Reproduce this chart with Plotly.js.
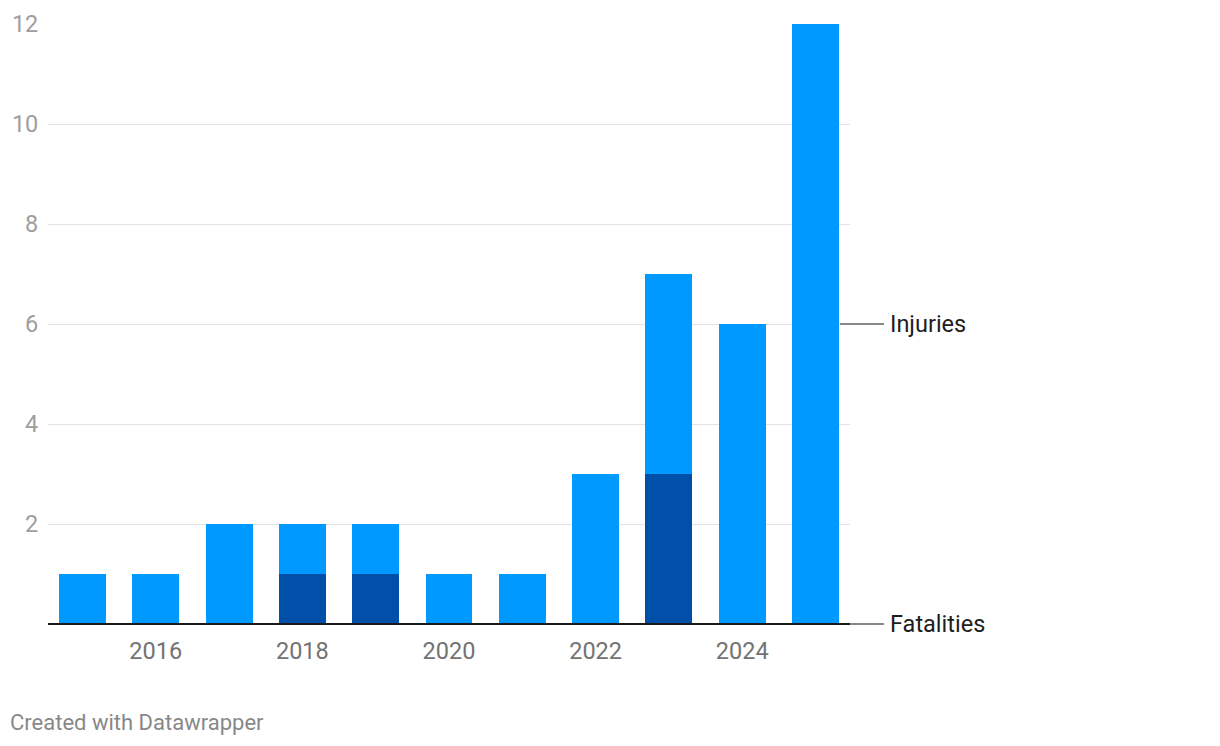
<!DOCTYPE html>
<html>
<head>
<meta charset="utf-8">
<script src="https://cdn.plot.ly/plotly-3.0.1.min.js"></script>
<style>
html,body{margin:0;padding:0;background:#fff;}
#chart{width:1220px;height:746px;}
</style>
</head>
<body>
<div id="chart"></div>
<script>
const years = [2015, 2016, 2017, 2018, 2019, 2020, 2021, 2022, 2023, 2024, 2025];
const fatalities = [0, 0, 0, 1, 1, 0, 0, 0, 3, 0, 0];
const injuries = [1, 1, 2, 1, 1, 1, 1, 3, 4, 6, 12];
const yTicks = [2, 4, 6, 8, 10, 12];
const xTicks = [2016, 2018, 2020, 2022, 2024];
const seriesNames = ["Fatalities", "Injuries"];

const FONT = "Roboto, 'Noto Sans', sans-serif";
const Y_MAX = 12;
const last = years.length - 1;
const fatLabelY = fatalities[last] / 2;
const injLabelY = fatalities[last] + injuries[last] / 2;

const traces = [
  {type: 'bar', x: years, y: fatalities, name: seriesNames[0], marker: {color: '#004fa8'}, width: 0.64, hoverinfo: 'x+y+name'},
  {type: 'bar', x: years, y: injuries, name: seriesNames[1], marker: {color: '#0099ff'}, width: 0.64, hoverinfo: 'x+y+name'}
];

const L = 48, R = 850, T = 24, B = 624;
const px = v => (v - L) / (R - L);
const py = v => (B - v) / (B - T);
const yp = v => v / Y_MAX;

const layout = {
  width: 1220, height: 746,
  margin: {l: L, r: 1220 - R, t: T, b: 746 - B, pad: 0},
  paper_bgcolor: '#fff', plot_bgcolor: '#fff',
  barmode: 'stack', bargap: 0,
  showlegend: false,
  font: {family: FONT, size: 23.5, color: '#333'},
  xaxis: {
    range: [2014.53, 2025.47],
    tickvals: xTicks, ticktext: xTicks.map(String),
    ticks: 'outside', ticklen: 6, tickcolor: 'rgba(0,0,0,0)',
    tickfont: {family: FONT, size: 23.5, color: '#737373'},
    showgrid: false, zeroline: false, showline: false, fixedrange: true
  },
  yaxis: {
    range: [0, Y_MAX],
    tickvals: yTicks, ticktext: yTicks.map(String),
    ticks: 'outside', ticklen: 4, tickcolor: 'rgba(0,0,0,0)',
    tickfont: {family: FONT, size: 23.5, color: '#9e9e9e'},
    showgrid: true, gridcolor: '#e3e3e3', gridwidth: 1,
    zeroline: false, showline: false, fixedrange: true
  },
  shapes: [
    {type: 'line', layer: 'above', xref: 'paper', yref: 'paper', x0: 0, x1: 1, y0: 0, y1: 0, line: {color: '#1a1a1a', width: 2}},
    {type: 'line', layer: 'above', xref: 'paper', yref: 'paper', x0: px(840), x1: px(884), y0: yp(injLabelY), y1: yp(injLabelY), line: {color: '#888', width: 2}},
    {type: 'line', layer: 'above', xref: 'paper', yref: 'paper', x0: 1, x1: px(884), y0: yp(fatLabelY), y1: yp(fatLabelY), line: {color: '#888', width: 2}}
  ],
  annotations: [
    {xref: 'paper', yref: 'y', x: px(888), y: injLabelY, xanchor: 'left', yanchor: 'middle', text: seriesNames[1], showarrow: false, font: {family: FONT, size: 23.5, color: '#1d1d1d'}},
    {xref: 'paper', yref: 'y', x: px(888), y: fatLabelY, xanchor: 'left', yanchor: 'middle', text: seriesNames[0], showarrow: false, font: {family: FONT, size: 23.5, color: '#1d1d1d'}},
    {xref: 'paper', yref: 'paper', x: px(8), y: py(722), xanchor: 'left', yanchor: 'middle', text: 'Created with Datawrapper', showarrow: false, font: {family: FONT, size: 22, color: '#888'}}
  ]
};

Plotly.newPlot('chart', traces, layout, {displayModeBar: false, staticPlot: true});
</script>
</body>
</html>
